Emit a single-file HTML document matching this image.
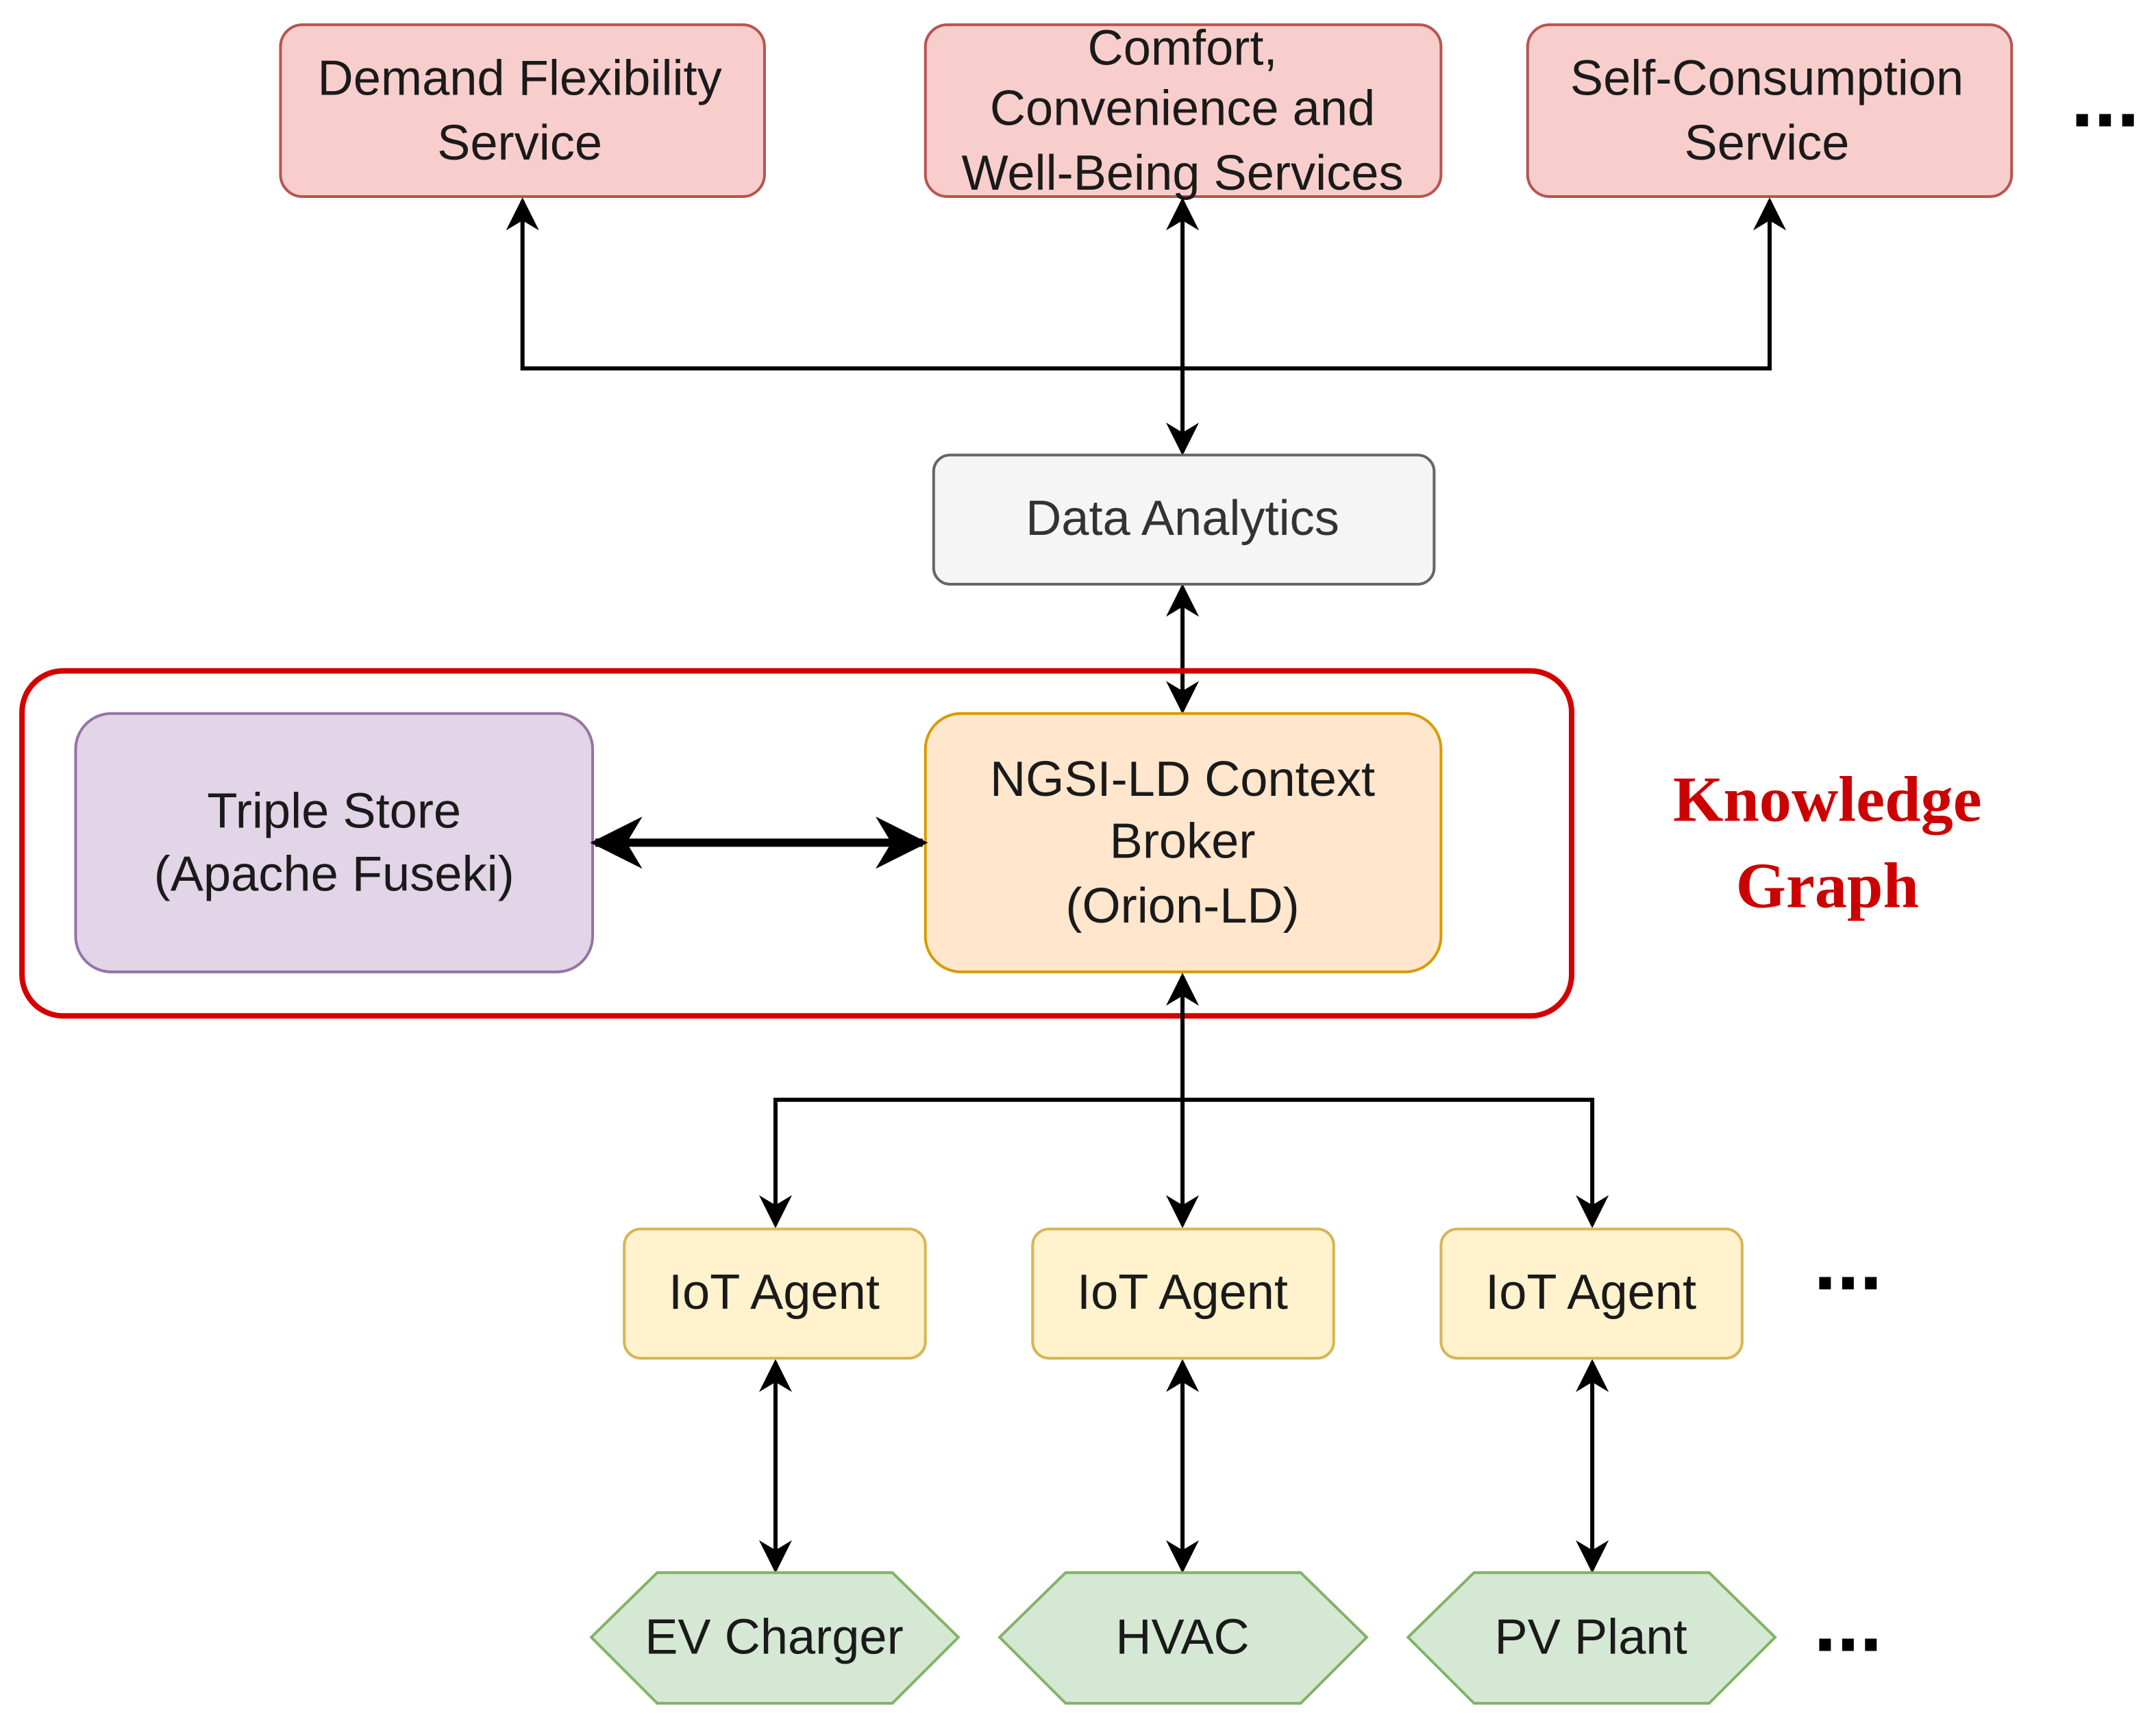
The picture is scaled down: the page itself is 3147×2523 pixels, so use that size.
<!DOCTYPE html>
<html><head><meta charset="utf-8"><style>
html,body{margin:0;padding:0;background:#fff;}
svg{display:block;}
text{font-family:"Liberation Sans",Arial,sans-serif;font-size:36px;fill:#1a1a1a;text-anchor:middle;}
.d{font-weight:bold;font-size:60px;fill:#000}
</style></head><body>
<svg width="3147" height="2523" viewBox="0 0 1568 1257" preserveAspectRatio="none" xmlns="http://www.w3.org/2000/svg">
<defs>
<marker id="b" viewBox="0 0 10 10" refX="9" refY="5" markerWidth="24" markerHeight="24" orient="auto-start-reverse" markerUnits="userSpaceOnUse"><path d="M0,0 L10,5 L0,10 L3,5 z" fill="#000"/></marker>
<marker id="c" viewBox="0 0 10 10" refX="9" refY="5" markerWidth="38" markerHeight="38" orient="auto-start-reverse" markerUnits="userSpaceOnUse"><path d="M0,0 L10,5 L0,10 L3,5 z" fill="#000"/></marker>
</defs>
<rect x="204" y="18" width="352" height="125" rx="16" fill="#f8cecc" stroke="#b85450" stroke-width="2"/>
<rect x="673" y="18" width="375" height="125" rx="16" fill="#f8cecc" stroke="#b85450" stroke-width="2"/>
<rect x="1111" y="18" width="352" height="125" rx="16" fill="#f8cecc" stroke="#b85450" stroke-width="2"/>
<text x="378" y="69">Demand Flexibility</text><text x="378" y="116">Service</text>
<text x="860" y="47">Comfort,</text><text x="860" y="91">Convenience and</text><text x="860" y="138">Well-Being Services</text>
<text x="1285" y="69">Self-Consumption</text><text x="1285" y="116">Service</text>
<text x="1531" y="92" class="d">...</text>
<g stroke="#000" stroke-width="3" fill="none">
<polyline points="380,146 380,268 1287,268 1287,146" marker-start="url(#b)" marker-end="url(#b)"/>
<line x1="860" y1="146" x2="860" y2="329" marker-start="url(#b)" marker-end="url(#b)"/>
<line x1="860" y1="427" x2="860" y2="517" marker-start="url(#b)" marker-end="url(#b)"/>
</g>
<rect x="679" y="331" width="364" height="94" rx="12" fill="#f5f5f5" stroke="#666" stroke-width="2"/>
<text x="860" y="389" style="fill:#333">Data Analytics</text>
<rect x="16" y="488" width="1127" height="251" rx="30" fill="none" stroke="#d40000" stroke-width="4"/>
<rect x="55" y="519" width="376" height="188" rx="26" fill="#e1d5e7" stroke="#9673a6" stroke-width="2"/>
<text x="243" y="602">Triple Store</text><text x="243" y="648">(Apache Fuseki)</text>
<rect x="673" y="519" width="375" height="188" rx="26" fill="#ffe6cc" stroke="#d79b00" stroke-width="2"/>
<text x="860" y="579">NGSI-LD Context</text><text x="860" y="624">Broker</text><text x="860" y="671">(Orion-LD)</text>
<line x1="433" y1="613" x2="671" y2="613" stroke="#000" stroke-width="6" marker-start="url(#c)" marker-end="url(#c)"/>
<text x="1329" y="597" style="font-family:'Liberation Serif',serif;font-weight:bold;font-size:47px;fill:#cc0000">Knowledge</text>
<text x="1329" y="660" style="font-family:'Liberation Serif',serif;font-weight:bold;font-size:47px;fill:#cc0000">Graph</text>
<g stroke="#000" stroke-width="3" fill="none">
<line x1="860" y1="710" x2="860" y2="891" marker-start="url(#b)" marker-end="url(#b)"/>
<polyline points="564,891 564,800 1158,800 1158,891" marker-start="url(#b)" marker-end="url(#b)"/>
<line x1="564" y1="991" x2="564" y2="1142" marker-start="url(#b)" marker-end="url(#b)"/>
<line x1="860" y1="991" x2="860" y2="1142" marker-start="url(#b)" marker-end="url(#b)"/>
<line x1="1158" y1="991" x2="1158" y2="1142" marker-start="url(#b)" marker-end="url(#b)"/>
</g>
<g fill="#fff2cc" stroke="#d6b656" stroke-width="2">
<rect x="454" y="894" width="219" height="94" rx="12"/>
<rect x="751" y="894" width="219" height="94" rx="12"/>
<rect x="1048" y="894" width="219" height="94" rx="12"/>
</g>
<text x="563" y="952">IoT Agent</text><text x="860" y="952">IoT Agent</text><text x="1157" y="952">IoT Agent</text>
<text x="1344" y="938" class="d">...</text>
<g fill="#d5e8d4" stroke="#82b366" stroke-width="2">
<polygon points="430,1191 478,1144 649,1144 697,1191 649,1239 478,1239"/>
<polygon points="727,1191 775,1144 946,1144 994,1191 946,1239 775,1239"/>
<polygon points="1024,1191 1072,1144 1243,1144 1291,1191 1243,1239 1072,1239"/>
</g>
<text x="563" y="1203">EV Charger</text><text x="860" y="1203">HVAC</text><text x="1157" y="1203">PV Plant</text>
<text x="1344" y="1201" class="d">...</text>
</svg>
</body></html>
